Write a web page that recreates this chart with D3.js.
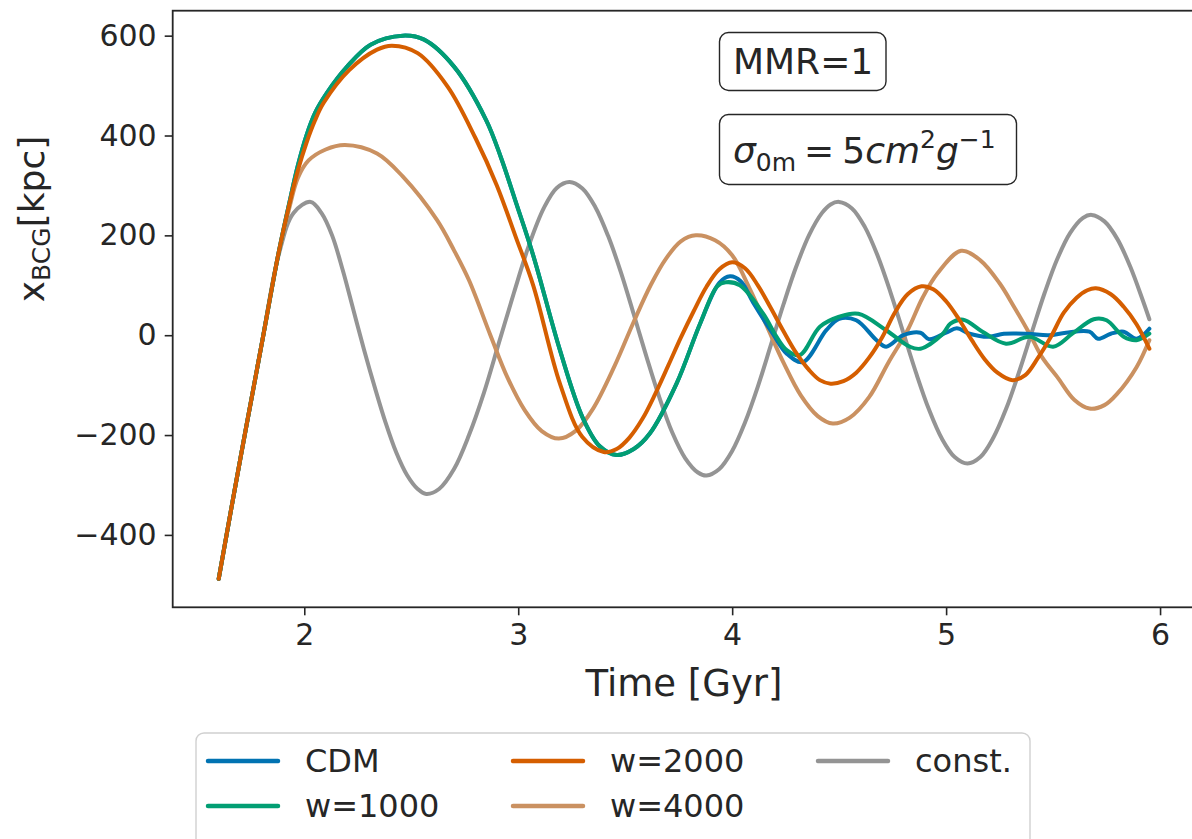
<!DOCTYPE html>
<html>
<head>
<meta charset="utf-8">
<script src="https://cdn.jsdelivr.net/npm/d3@7"></script>
<style>
  html, body { margin: 0; padding: 0; background: #fff; }
  text { font-family: "DejaVu Sans", sans-serif; fill: #262626; }
</style>
</head>
<body>
<div id="chart"></div>
<script>
// series: [time (Gyr), x_BCG (kpc)]
const cdm = [[1.60,-488],[1.70,-250],[1.80,-20],[1.88,165],[1.93,265],[1.97,340],[2.01,400],[2.05,445],[2.105,485],[2.20,538],[2.31,582],[2.46,600],[2.56,592],[2.70,538],[2.85,431],[2.92,355],[2.99,265],[3.07,160],[3.195,-30],[3.30,-164],[3.38,-222],[3.46,-240],[3.54,-228],[3.615,-197],[3.74,-97],[3.85,23],[3.94,105],[3.99,118],[4.04,108],[4.10,64],[4.19,3],[4.255,-37],[4.33,-54],[4.44,10],[4.50,33],[4.58,30],[4.675,-10],[4.72,-23],[4.80,0],[4.88,5],[4.92,-8],[5.00,5],[5.05,14],[5.11,3],[5.20,-3],[5.27,3],[5.38,3],[5.48,0],[5.56,5],[5.67,7],[5.71,-7],[5.77,3],[5.83,7],[5.89,-7],[5.95,13]];
const w1000 = [[1.60,-488],[1.70,-250],[1.80,-20],[1.88,165],[1.93,265],[1.97,340],[2.01,400],[2.05,445],[2.105,485],[2.20,538],[2.31,582],[2.46,600],[2.56,592],[2.70,538],[2.85,431],[2.92,355],[2.99,265],[3.07,160],[3.195,-30],[3.30,-164],[3.38,-222],[3.46,-240],[3.54,-228],[3.615,-197],[3.74,-97],[3.85,23],[3.93,98],[3.97,106],[4.036,100],[4.145,43],[4.207,-3],[4.255,-30],[4.316,-40],[4.41,17],[4.50,37],[4.59,43],[4.72,10],[4.83,-23],[4.88,-27],[4.985,3],[5.02,23],[5.08,31],[5.17,7],[5.28,-17],[5.39,-3],[5.50,-23],[5.59,3],[5.69,32],[5.75,30],[5.83,-3],[5.89,-10],[5.95,3]];
const w2000 = [[1.60,-488],[1.70,-250],[1.80,-20],[1.88,165],[1.93,262],[1.97,330],[2.01,385],[2.05,430],[2.09,465],[2.21,531],[2.34,572],[2.41,580],[2.53,565],[2.67,498],[2.80,395],[2.90,300],[2.99,195],[3.07,100],[3.195,-97],[3.30,-204],[3.40,-234],[3.46,-228],[3.52,-205],[3.58,-168],[3.64,-118],[3.70,-62],[3.76,-5],[3.82,48],[3.88,97],[3.94,132],[4.00,146],[4.06,134],[4.12,100],[4.18,55],[4.24,8],[4.30,-36],[4.36,-70],[4.41,-90],[4.46,-97],[4.52,-92],[4.58,-75],[4.64,-45],[4.70,-5],[4.76,45],[4.82,82],[4.885,98],[4.94,92],[5.00,68],[5.06,32],[5.12,-10],[5.18,-48],[5.24,-75],[5.31,-90],[5.37,-80],[5.43,-45],[5.49,-3],[5.55,45],[5.61,75],[5.66,90],[5.70,94],[5.77,82],[5.83,57],[5.89,22],[5.95,-27]];
const w4000 = [[1.60,-488],[1.70,-250],[1.80,-20],[1.88,165],[1.93,255],[1.97,315],[2.02,350],[2.10,372],[2.19,381],[2.34,364],[2.46,318],[2.62,231],[2.70,170],[2.77,110],[2.87,0],[2.95,-85],[3.03,-150],[3.11,-192],[3.19,-207],[3.27,-191],[3.35,-147],[3.45,-62],[3.54,27],[3.62,101],[3.69,153],[3.76,188],[3.83,200],[3.92,190],[4.00,160],[4.08,95],[4.16,20],[4.24,-55],[4.32,-120],[4.40,-162],[4.47,-177],[4.55,-165],[4.64,-124],[4.73,-55],[4.82,10],[4.89,75],[4.96,124],[5.07,169],[5.16,150],[5.25,104],[5.32,55],[5.39,3],[5.45,-45],[5.52,-84],[5.60,-130],[5.67,-147],[5.74,-140],[5.80,-117],[5.89,-64],[5.95,-10]];
const constant = [[1.60,-488],[1.70,-250],[1.80,-20],[1.88,160],[1.95,245],[2.03,267],[2.08,245],[2.13,200],[2.18,130],[2.23,50],[2.28,-30],[2.33,-105],[2.38,-175],[2.43,-235],[2.48,-280],[2.53,-308],[2.57,-318],[2.63,-308],[2.70,-268],[2.77,-200],[2.84,-115],[2.91,-15],[2.98,85],[3.05,180],[3.12,255],[3.18,295],[3.24,307],[3.30,294],[3.36,257],[3.42,199],[3.48,126],[3.54,42],[3.60,-44],[3.66,-125],[3.72,-195],[3.78,-246],[3.84,-275],[3.88,-281],[3.94,-268],[4.00,-232],[4.06,-175],[4.12,-103],[4.18,-21],[4.24,62],[4.30,138],[4.36,201],[4.42,245],[4.46,262],[4.50,267],[4.56,254],[4.62,217],[4.68,159],[4.74,86],[4.80,5],[4.86,-76],[4.92,-149],[4.98,-207],[5.04,-244],[5.10,-257],[5.16,-244],[5.22,-206],[5.28,-148],[5.34,-75],[5.40,5],[5.46,84],[5.52,153],[5.58,205],[5.64,235],[5.68,241],[5.74,228],[5.80,193],[5.86,138],[5.92,69],[5.95,32]];

const seriesNames = ["CDM", "w=1000", "w=2000", "w=4000", "const."];
const seriesColors = ["#0173b2", "#029e73", "#d55e00", "#ca9161", "#949494"];
const seriesData = [cdm, w1000, w2000, w4000, constant];
const drawOrder = [4, 3, 0, 1, 2];   // gray first, orange last on top

const xTicks = [2, 3, 4, 5, 6];
const yTicks = [-400, -200, 0, 200, 400, 600];

const width = 1192, height = 839;
const plot = {left: 172.7, top: 10.7, right: 1196, bottom: 607.3};

const svg = d3.select("#chart").append("svg")
  .attr("width", width).attr("height", height)
  .attr("viewBox", [0, 0, width, height]);

const x = d3.scaleLinear().domain([1.385, 6.168]).range([plot.left, plot.right]);
const y = d3.scaleLinear().domain([-545, 650]).range([plot.bottom, plot.top]);

const line = d3.line()
  .x(d => x(d[0]))
  .y(d => y(d[1]))
  .curve(d3.curveCatmullRom.alpha(0.5));

svg.append("g")
  .attr("fill", "none")
  .attr("stroke-width", 4)
  .attr("stroke-linecap", "round")
  .attr("stroke-linejoin", "round")
  .selectAll("path")
  .data(drawOrder)
  .join("path")
  .attr("stroke", i => seriesColors[i])
  .attr("d", i => line(seriesData[i]));

// axes
const axisColor = "#262626";
const xAxis = svg.append("g")
  .attr("transform", `translate(0,${plot.bottom})`)
  .call(d3.axisBottom(x).tickValues(xTicks).tickFormat(d3.format("d")).tickSize(8).tickPadding(8));
const yAxis = svg.append("g")
  .attr("transform", `translate(${plot.left},0)`)
  .call(d3.axisLeft(y).tickValues(yTicks).tickFormat(d => d < 0 ? "\u2212" + Math.abs(d) : d).tickSize(8).tickPadding(8));

[xAxis, yAxis].forEach(g => {
  g.select(".domain").remove();
  g.selectAll(".tick line").attr("stroke", axisColor).attr("stroke-width", 1.6);
  g.selectAll(".tick text").attr("fill", axisColor).style("font-size", "30px")
    .style("font-family", "DejaVu Sans, sans-serif");
});

// spines
svg.append("rect")
  .attr("x", plot.left).attr("y", plot.top)
  .attr("width", plot.right - plot.left).attr("height", plot.bottom - plot.top)
  .attr("fill", "none").attr("stroke", axisColor).attr("stroke-width", 1.8);

// axis labels
svg.append("text")
  .attr("x", 684).attr("y", 696)
  .attr("text-anchor", "middle").style("font-size", "37px")
  .text("Time [Gyr]");

const yl = svg.append("text")
  .attr("transform", "translate(44,219) rotate(-90)")
  .attr("text-anchor", "middle").style("font-size", "36px");
yl.append("tspan").text("x");
yl.append("tspan").attr("baseline-shift", "-22%").style("font-size", "25px").text("BCG");
yl.append("tspan").attr("baseline-shift", "0").text("[kpc]");

// annotation boxes
function annBox(x0, y0, w, h) {
  svg.append("rect")
    .attr("x", x0).attr("y", y0).attr("width", w).attr("height", h)
    .attr("rx", 9).attr("fill", "#fff").attr("stroke", axisColor).attr("stroke-width", 1.4);
}
annBox(719.5, 32.5, 166.5, 58);
svg.append("text").attr("x", 733).attr("y", 74).style("font-size", "36px").text("MMR=1");

annBox(719.5, 114.5, 297, 70);
const sig = svg.append("text").attr("x", 733).attr("y", 163).style("font-size", "36px");
sig.append("tspan").style("font-style", "italic").text("σ");
sig.append("tspan").attr("dy", 8).style("font-size", "25px").text("0m");
sig.append("tspan").attr("dy", -8).attr("dx", 8).text("=");
sig.append("tspan").attr("dx", 8).text("5");
sig.append("tspan").style("font-style", "italic").text("cm");
sig.append("tspan").attr("dy", -15).style("font-size", "25px").text("2");
sig.append("tspan").attr("dy", 15).style("font-style", "italic").text("g");
sig.append("tspan").attr("dy", -15).style("font-size", "25px").text("\u22121");

// legend
svg.append("rect")
  .attr("x", 196).attr("y", 733).attr("width", 834).attr("height", 140)
  .attr("rx", 8).attr("fill", "#fff").attr("stroke", "#d0d0d0").attr("stroke-width", 1.4);

const legendPos = [[0, 0], [0, 1], [1, 0], [1, 1], [2, 0]];
const leg = svg.append("g").selectAll("g")
  .data(seriesNames.map((n, i) => ({name: n, color: seriesColors[i], col: legendPos[i][0], row: legendPos[i][1]})))
  .join("g")
  .attr("transform", d => `translate(${208 + d.col * 305},${761 + d.row * 45})`);
leg.append("line")
  .attr("x1", 0).attr("x2", 70).attr("y1", 0).attr("y2", 0)
  .attr("stroke", d => d.color).attr("stroke-width", 4.5).attr("stroke-linecap", "round");
leg.append("text")
  .attr("x", 97).attr("y", 11)
  .style("font-size", "32px")
  .text(d => d.name);
</script>
</body>
</html>
